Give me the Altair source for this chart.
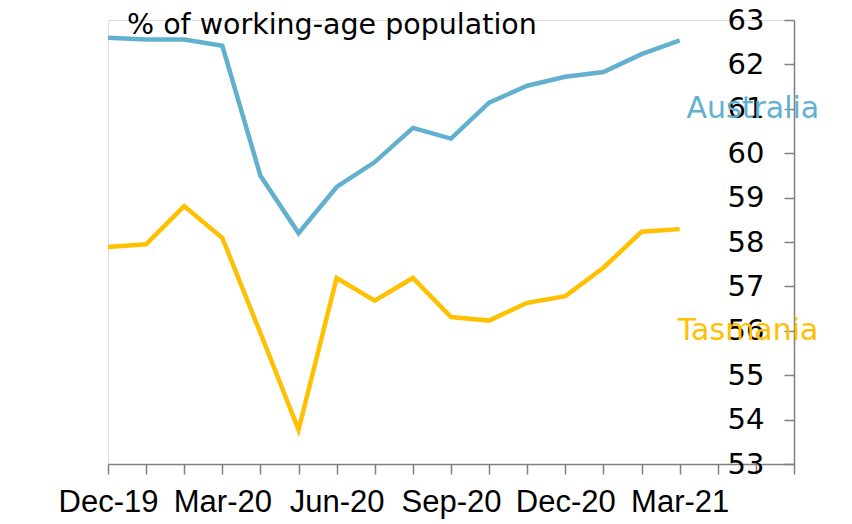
import altair as alt
import pandas as pd

months = ["Dec-19", "Jan-20", "Feb-20", "Mar-20", "Apr-20", "May-20", "Jun-20", "Jul-20",
          "Aug-20", "Sep-20", "Oct-20", "Nov-20", "Dec-20", "Jan-21", "Feb-21", "Mar-21"]
australia = [62.60, 62.56, 62.56, 62.42, 59.49, 58.20, 59.24, 59.80, 60.57, 60.33,
             61.14, 61.52, 61.72, 61.83, 62.23, 62.54]
tasmania = [57.89, 57.95, 58.81, 58.09, 55.95, 53.77, 57.19, 56.68, 57.19, 56.31,
            56.23, 56.63, 56.78, 57.42, 58.23, 58.29]
tick_labels = ["Dec-19", "", "", "Mar-20", "", "", "Jun-20", "", "", "Sep-20", "", "",
               "Dec-20", "", "", "Mar-21", "", "", ""]
series_names = ["Australia", "Tasmania"]
series_colors = ["#62B0D0", "#FFC000"]
label_x = [15.18, 14.95]
label_y = [61.0, 56.0]
title_text = ["% of working-age population"]

rows = []
for i, m in enumerate(months):
    rows.append({"idx": i, "month": m, "series": "Australia", "value": australia[i]})
    rows.append({"idx": i, "month": m, "series": "Tasmania", "value": tasmania[i]})
df = pd.DataFrame(rows)

lab = pd.DataFrame({"series": series_names, "idx": label_x, "value": label_y})
ttl = pd.DataFrame({"t": title_text})

label_expr = "[" + ",".join("'" + t + "'" for t in tick_labels) + "][datum.value]"

W, H = 686, 444
FONT = "DejaVu Sans"

x = alt.X("idx:Q", scale=alt.Scale(domain=[0, 18], nice=False, zero=False),
          axis=alt.Axis(values=list(range(19)), labelExpr=label_expr, grid=False,
                        domainColor="#808080", domainWidth=1.5, tickColor="#808080",
                        tickWidth=1.5, tickSize=10, labelFontSize=31,
                        labelFont="Liberation Sans",
                        labelColor="#000000", labelPadding=13, labelFlush=False,
                        labelOverlap=False, labelBound=False),
          title=None)
y = alt.Y("value:Q", scale=alt.Scale(domain=[53, 63], nice=False, zero=False),
          axis=alt.Axis(orient="left", offset=-W, values=list(range(53, 64)), grid=False,
                        domainColor="#808080", domainWidth=1.5, tickColor="#808080",
                        tickWidth=1.5, tickSize=10, labelFontSize=29, labelFont=FONT,
                        labelColor="#000000", labelPadding=20, labelOverlap=False,
                        labelBound=False),
          title=None)
color = alt.Color("series:N", scale=alt.Scale(domain=series_names, range=series_colors),
                  legend=None)

lines = alt.Chart(df).mark_line(strokeWidth=4.5, strokeJoin="miter").encode(
    x=x, y=y, color=color, detail="series:N")

labels = alt.Chart(lab).mark_text(align="left", baseline="middle", fontSize=30,
                                  font=FONT).encode(
    x=x, y=y, color=color, text="series:N")

title = alt.Chart(ttl).mark_text(align="left", baseline="alphabetic", fontSize=28.5,
                                 font=FONT, color="#000000").encode(
    x=alt.value(19), y=alt.value(14), text="t:N")

chart = alt.layer(lines, labels, title).properties(
    width=W, height=H,
    autosize=alt.AutoSizeParams(type="none"),
    padding={"left": 100, "top": 12, "right": 50, "bottom": 60},
).configure_view(strokeWidth=0, stroke="transparent").configure(background="#ffffff")

chart.save("out.html", embed_options={"renderer": "svg", "actions": False})
